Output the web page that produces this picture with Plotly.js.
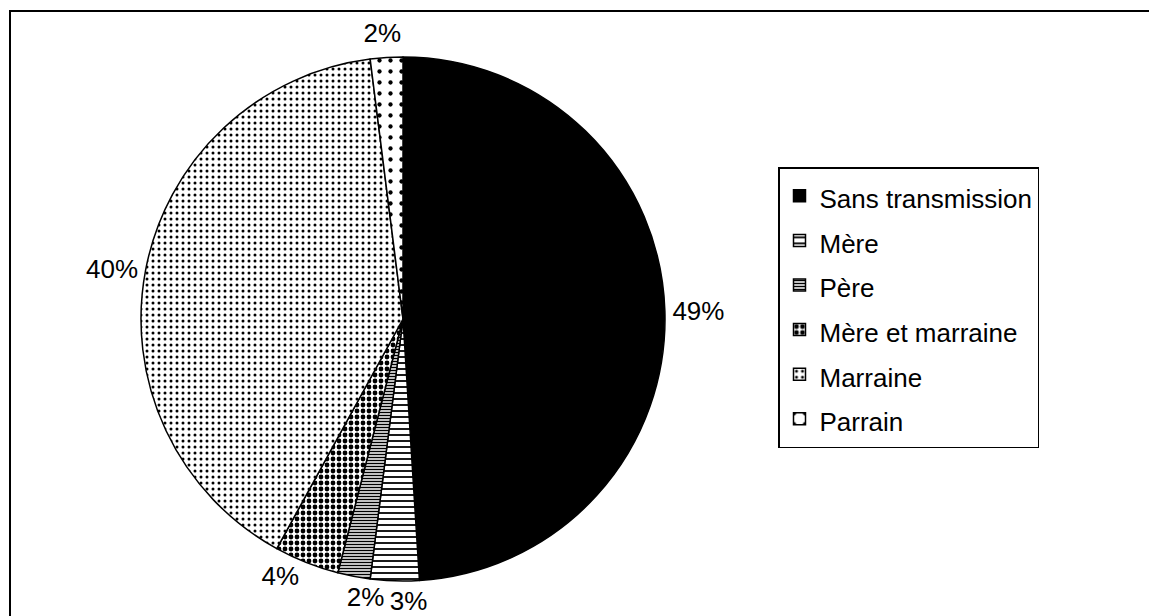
<!DOCTYPE html>
<html>
<head>
<meta charset="utf-8">
<script src="https://cdn.plot.ly/plotly-3.0.1.min.js"></script>
<style>html,body{margin:0;padding:0;background:#fff;}#chart{width:1149px;height:616px;}</style>
</head>
<body>
<div id="chart"></div>
<script>
const categories = ["Sans transmission", "Mère", "Père", "Mère et marraine", "Marraine", "Parrain"];
const values = [49, 3, 2, 4, 40, 2];

const sliceColors = ["#000000", "#ffffff", "#ffffff", "#ffffff", "#ffffff", "#ffffff"];
const patternShapes = ["", "-", "-", ".", ".", "."];
const patternSizes = [8, 6, 3, 6, 6, 11];
const patternSolidity = [0.3, 0.3, 0.5, 0.5, 0.2, 0.12];
// which slice labels each pie layer draws (small labels get their own layer so they are not stacked off-page)
const mainTextPos = ["outside", "none", "none", "outside", "outside", "none"];
const mereTextPos = ["none", "outside", "none", "none", "none", "none"];
const pereTextPos = ["none", "none", "outside", "none", "none", "none"];
const parrainTextPos = ["none", "none", "none", "none", "none", "outside"];

const FONT = "Liberation Sans, Arial, sans-serif";
const legendLabels = categories.map(c => '<span style="font-size:26px">' + c + '</span>');
const W = 1149, H = 616;
const pieDomain = (dx, dy) => ({x: [(141 + dx)/W, (665 + dx)/W], y: [(35 - dy)/H, (559 - dy)/H]});

const trace = {
  type: "pie",
  labels: legendLabels,
  values: values,
  sort: false,
  direction: "clockwise",
  rotation: 0,
  textinfo: "percent",
  textposition: mainTextPos,
  texttemplate: "%{percent:.0%}",
  outsidetextfont: {family: FONT, size: 26, color: "#000"},
  hoverinfo: "percent",
  marker: {
    colors: sliceColors,
    line: {color: "#000", width: 1.5},
    pattern: {
      shape: patternShapes,
      size: patternSizes,
      solidity: patternSolidity,
      fgcolor: "#000",
      bgcolor: "#fff",
      fillmode: "replace"
    }
  },
  domain: pieDomain(0, 0),
  automargin: false
};

function labelLayer(textpos, dx, dy) {
  return {
    type: "pie",
    labels: legendLabels,
    values: values,
    sort: false,
    direction: "clockwise",
    rotation: 0,
    textinfo: "percent",
    textposition: textpos,
    texttemplate: "%{percent:.0%}",
    outsidetextfont: {family: FONT, size: 26, color: "#000"},
    hoverinfo: "skip",
    showlegend: false,
    marker: {colors: categories.map(() => "rgba(0,0,0,0)"), line: {width: 0}},
    domain: pieDomain(dx, dy),
    automargin: false
  };
}

const layout = {
  width: W,
  height: H,
  margin: {l: 0, r: 0, t: 0, b: 0},
  paper_bgcolor: "#fff",
  font: {family: FONT, size: 26, color: "#000"},
  showlegend: true,
  legend: {
    x: 778/W, y: 1 - 167/H, xanchor: "left", yanchor: "top",
    bordercolor: "#000", borderwidth: 1.5, bgcolor: "#fff",
    font: {family: FONT, size: 32, color: "#000"},
    tracegroupgap: 0
  },
  shapes: [
    {type: "rect", xref: "paper", yref: "paper", x0: 10/W, x1: 1.05, y0: -0.05, y1: 1 - 11/H,
     line: {color: "#000", width: 2}, fillcolor: "rgba(0,0,0,0)"}
  ]
};

Plotly.newPlot("chart", [
  trace,
  labelLayer(mereTextPos, 40, 5),
  labelLayer(pereTextPos, 38, 6),
  labelLayer(parrainTextPos, 22, -10)
], layout, {displayModeBar: false, staticPlot: true});
</script>
</body>
</html>
